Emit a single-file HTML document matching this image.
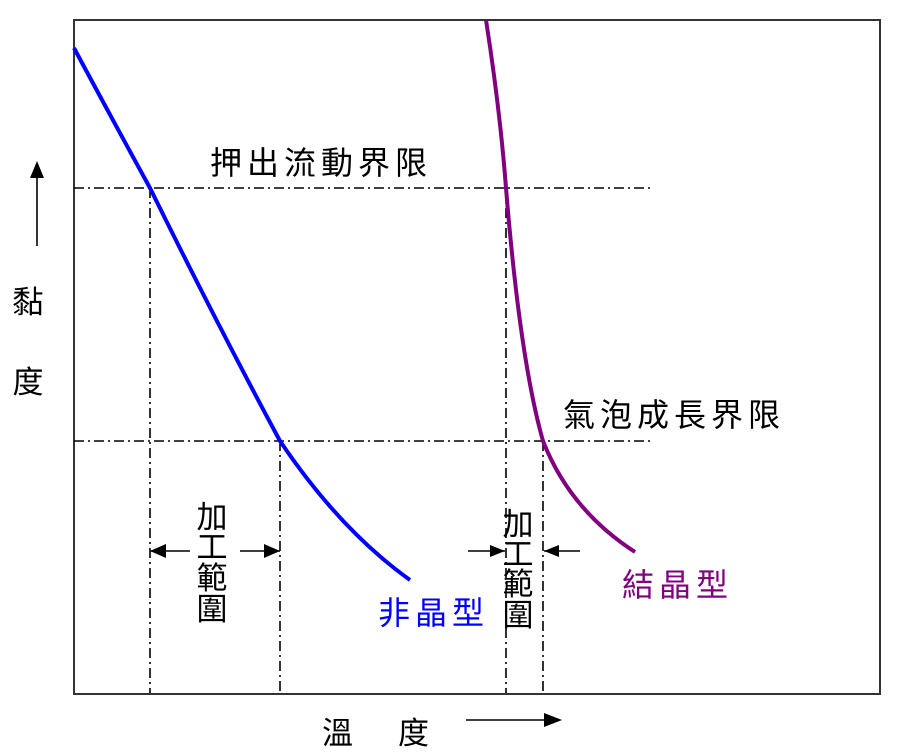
<!DOCTYPE html>
<html><head><meta charset="utf-8"><style>
html,body{margin:0;padding:0;background:#fff;}
svg{display:block;}
text{font-family:"Liberation Sans","Noto Sans CJK TC",sans-serif;font-size:31px;}
.h{font-size:32px;letter-spacing:5px;}
</style></head><body>
<svg width="898" height="756" viewBox="0 0 898 756" xmlns="http://www.w3.org/2000/svg">
<rect x="74" y="20" width="806" height="674" fill="none" stroke="#333" stroke-width="2"/>
<g stroke="#000" stroke-width="1.6" stroke-dasharray="10,4,2,4" fill="none">
<line x1="74" y1="188" x2="652" y2="188"/>
<line x1="74" y1="441" x2="652" y2="441"/>
<line x1="150" y1="188" x2="150" y2="693"/>
<line x1="280" y1="441" x2="280" y2="693"/>
<line x1="506" y1="188" x2="506" y2="693"/>
<line x1="543" y1="441" x2="543" y2="693"/>
</g>
<path d="M74,48 Q110,115 150,188 Q215,320 280,441 Q340,530 410,580" fill="none" stroke="#0000ff" stroke-width="4"/>
<path d="M486,20 Q500,110 506,188 Q520,360 543,441 Q570,510 635,552" fill="none" stroke="#800080" stroke-width="4"/>
<g stroke="#000" stroke-width="1.6">
<line x1="150" y1="551" x2="190" y2="551"/>
<line x1="240" y1="551" x2="280" y2="551"/>
<line x1="468" y1="551" x2="505" y2="551"/>
<line x1="544" y1="551" x2="580" y2="551"/>
<line x1="37" y1="175" x2="37" y2="246"/>
<line x1="466" y1="720" x2="545" y2="720"/>
</g>
<g fill="#000">
<polygon points="150,551 166,544 166,558"/>
<polygon points="280,551 264,544 264,558"/>
<polygon points="505,551 490,545 490,557"/>
<polygon points="544,551 559,545 559,557"/>
<polygon points="37,161 30,178 44,178"/>
<polygon points="562,720 544,713 544,727"/>
</g>
<text class="h" x="210" y="174">押出流動界限</text>
<text class="h" x="563" y="426">氣泡成長界限</text>
<g text-anchor="middle">
<text x="212" y="528">加</text><text x="212" y="558">工</text><text x="212" y="589">範</text><text x="212" y="620">圍</text>
<text x="518" y="535">加</text><text x="518" y="565">工</text><text x="518" y="595">範</text><text x="518" y="626">圍</text>
<text x="28" y="313">黏</text><text x="28" y="393">度</text>
</g>
<text x="322" y="744">溫</text><text x="398" y="744">度</text>
<text class="h" x="378" y="624" fill="#0000ff">非晶型</text>
<text class="h" x="622" y="596" fill="#800080">結晶型</text>
</svg>
</body></html>
